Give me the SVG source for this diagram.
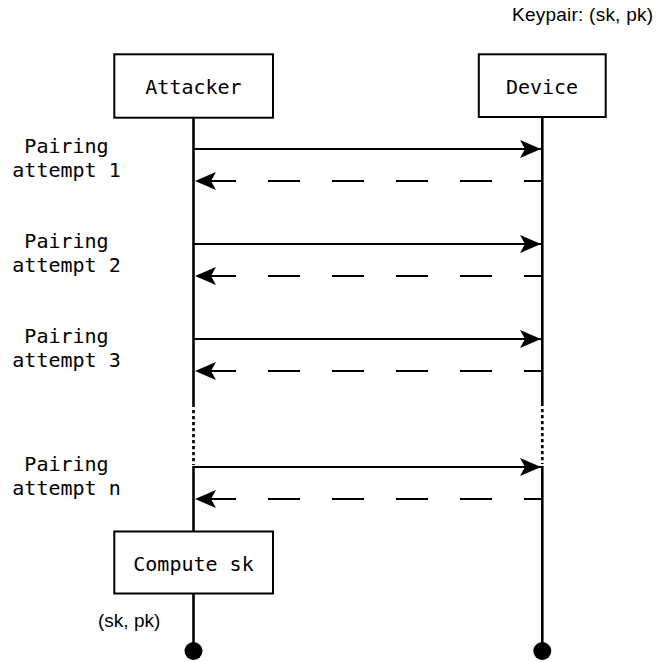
<svg xmlns="http://www.w3.org/2000/svg" width="657" height="662" viewBox="0 0 657 662">
  <style>
    .box { fill: #ffffff; stroke: #000000; stroke-width: 2; }
    .mono { font-family: "DejaVu Sans Mono", "Liberation Mono", monospace; font-size: 20px; fill: #000000; }
    .sans { font-family: "Liberation Sans", Arial, sans-serif; font-size: 19px; fill: #000000; }
    .life { stroke: #000000; stroke-width: 2.6; fill: none; }
    .dots { stroke: #000000; stroke-width: 2.7; fill: none; stroke-dasharray: 3.3 2.7; }
    .msg { stroke: #000000; stroke-width: 2; fill: none; marker-end: url(#arrow); }
    .ret { stroke: #000000; stroke-width: 2; fill: none; stroke-dasharray: 32 32; stroke-dashoffset: 15; marker-end: url(#arrow); }
  </style>
  <defs>
    <marker id="arrow" markerUnits="userSpaceOnUse" markerWidth="22" markerHeight="20" refX="21" refY="9" orient="auto" viewBox="0 0 22 20">
      <path d="M0,0 L21,9 L0,18 L5,9 Z" fill="#000000"/>
    </marker>
  </defs>
  <rect width="657" height="662" fill="#ffffff"/>

  <g id="lifelines">
    <line class="life" x1="193.5" y1="118" x2="193.5" y2="407"/>
    <line class="dots" x1="193.5" y1="410" x2="193.5" y2="465"/>
    <line class="life" x1="193.5" y1="466" x2="193.5" y2="651"/>
    <line class="life" x1="542.3" y1="118" x2="542.3" y2="406"/>
    <line class="dots" x1="542.3" y1="409" x2="542.3" y2="464"/>
    <line class="life" x1="542.3" y1="466" x2="542.3" y2="651"/>
    <circle cx="193.5" cy="651" r="9" fill="#000000"/>
    <circle cx="542.3" cy="651" r="9" fill="#000000"/>
  </g>

  <g id="connectors">
    <line class="msg" x1="194" y1="149" x2="541" y2="149"/>
    <line class="ret" x1="541" y1="181" x2="195" y2="181"/>
    <line class="msg" x1="194" y1="244" x2="541" y2="244"/>
    <line class="ret" x1="541" y1="276" x2="195" y2="276"/>
    <line class="msg" x1="194" y1="339" x2="541" y2="339"/>
    <line class="ret" x1="541" y1="371" x2="195" y2="371"/>
    <line class="msg" x1="194" y1="467" x2="541" y2="467"/>
    <line class="ret" x1="541" y1="499" x2="195" y2="499"/>
  </g>

  <g id="attacker">
    <rect class="box" x="114.3" y="54.3" width="158.7" height="63.4"/>
    <text class="mono" x="193.5" y="93.5" text-anchor="middle">Attacker</text>
  </g>

  <g id="device">
    <rect class="box" x="478.8" y="54.3" width="126.9" height="62.7"/>
    <text class="mono" x="542" y="93.5" text-anchor="middle">Device</text>
  </g>

  <g id="keypair">
    <text class="sans" x="512" y="20.5" textLength="141" lengthAdjust="spacing">Keypair: (sk, pk)</text>
  </g>

  <g id="attempt1">
    <text class="mono" x="66.5" y="153" text-anchor="middle">Pairing</text>
    <text class="mono" x="66.5" y="177" text-anchor="middle">attempt 1</text>
  </g>
  <g id="attempt2">
    <text class="mono" x="66.5" y="248" text-anchor="middle">Pairing</text>
    <text class="mono" x="66.5" y="272" text-anchor="middle">attempt 2</text>
  </g>
  <g id="attempt3">
    <text class="mono" x="66.5" y="343" text-anchor="middle">Pairing</text>
    <text class="mono" x="66.5" y="367" text-anchor="middle">attempt 3</text>
  </g>
  <g id="attemptn">
    <text class="mono" x="66.5" y="471" text-anchor="middle">Pairing</text>
    <text class="mono" x="66.5" y="495" text-anchor="middle">attempt n</text>
  </g>

  <g id="compute">
    <rect class="box" x="114.3" y="531.5" width="158.7" height="62"/>
    <text class="mono" x="193.5" y="570.5" text-anchor="middle">Compute sk</text>
  </g>

  <g id="result">
    <text class="sans" x="98" y="627">(sk, pk)</text>
  </g>
</svg>
